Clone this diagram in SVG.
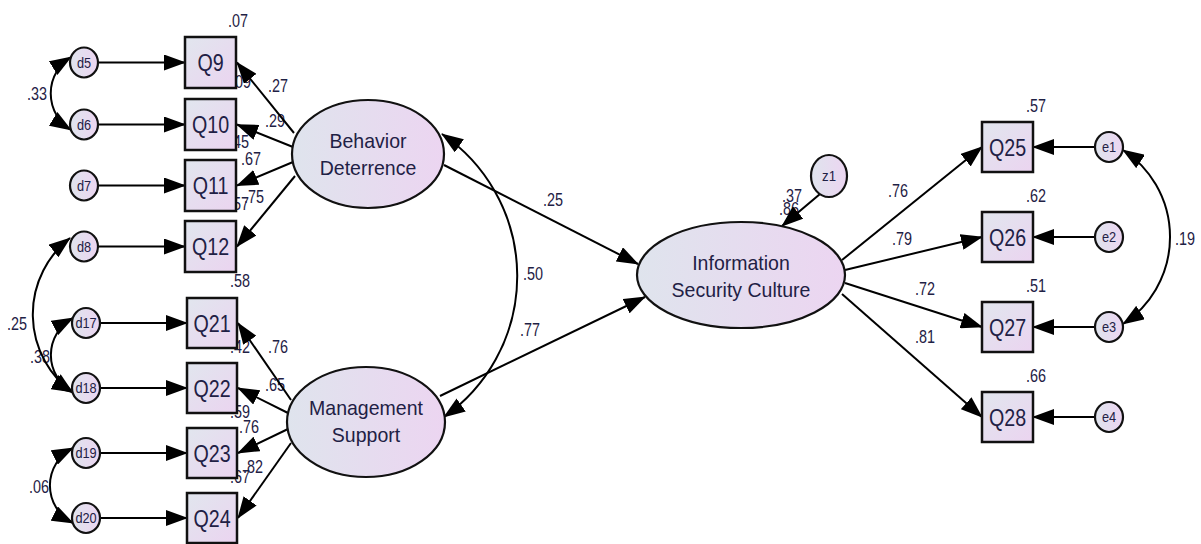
<svg xmlns="http://www.w3.org/2000/svg" width="1201" height="544" viewBox="0 0 1201 544">
  <defs>
    <linearGradient id="gEll" x1="0" y1="0" x2="1" y2="0">
      <stop offset="0" stop-color="#dfe4ed"/>
      <stop offset="1" stop-color="#ecd5f1"/>
    </linearGradient>
    <linearGradient id="gBox" x1="0" y1="0" x2="1" y2="1">
      <stop offset="0" stop-color="#e1e6ee"/>
      <stop offset="1" stop-color="#ebd4f0"/>
    </linearGradient>
    <marker id="ah" markerUnits="userSpaceOnUse" markerWidth="22" markerHeight="16" viewBox="0 0 22 16" refX="21" refY="8" orient="auto-start-reverse">
      <path d="M0,0 L22,8 L0,16 Z" fill="#000"/>
    </marker>
    <style>
      text { font-family: "Liberation Sans", Arial, sans-serif; fill: #1f2145; }
      .num { font-size: 18px; }
      .box { fill: url(#gBox); stroke: #111; stroke-width: 2.5; }
      .lat { fill: url(#gEll); stroke: #111; stroke-width: 2.2; }
      .err { fill: url(#gEll); stroke: #111; stroke-width: 2.2; }
      .qt { font-size: 24px; text-anchor: middle; }
      .lt { font-size: 21px; text-anchor: middle; }
      .et { font-size: 15px; text-anchor: middle; }
      .c { fill: none; stroke: #000; stroke-width: 2; marker-end: url(#ah); }
      .cv { fill: none; stroke: #000; stroke-width: 2; marker-start: url(#ah); marker-end: url(#ah); }
    </style>
  </defs>

  <rect width="1201" height="544" fill="#ffffff"/>

  <!-- coefficient and squared multiple correlation labels -->
  <g id="labels" class="num">
    <text transform="translate(228 27) scale(.8 1)">.07</text>
    <text transform="translate(231 88) scale(.8 1)">.09</text>
    <text transform="translate(268 92) scale(.8 1)">.27</text>
    <text transform="translate(265 127) scale(.8 1)">.29</text>
    <text transform="translate(229 148) scale(.8 1)">.45</text>
    <text transform="translate(241 165) scale(.8 1)">.67</text>
    <text transform="translate(244 203) scale(.8 1)">.75</text>
    <text transform="translate(229 210) scale(.8 1)">.57</text>
    <text transform="translate(27 100) scale(.8 1)">.33</text>
    <text transform="translate(230 287) scale(.8 1)">.58</text>
    <text transform="translate(7 330) scale(.8 1)">.25</text>
    <text transform="translate(30 363) scale(.8 1)">.38</text>
    <text transform="translate(29 493) scale(.8 1)">.06</text>
    <text transform="translate(230 353) scale(.8 1)">.42</text>
    <text transform="translate(268 353) scale(.8 1)">.76</text>
    <text transform="translate(265 391) scale(.8 1)">.65</text>
    <text transform="translate(230 418) scale(.8 1)">.59</text>
    <text transform="translate(239 433) scale(.8 1)">.76</text>
    <text transform="translate(243 473) scale(.8 1)">.82</text>
    <text transform="translate(230 483) scale(.8 1)">.67</text>
    <text transform="translate(543 206) scale(.8 1)">.25</text>
    <text transform="translate(523 280) scale(.8 1)">.50</text>
    <text transform="translate(520 336) scale(.8 1)">.77</text>
    <text transform="translate(782 202) scale(.8 1)">.37</text>
    <text transform="translate(779 215) scale(.8 1)">.86</text>
    <text transform="translate(888 197) scale(.8 1)">.76</text>
    <text transform="translate(892 245) scale(.8 1)">.79</text>
    <text transform="translate(915 295) scale(.8 1)">.72</text>
    <text transform="translate(915 343) scale(.8 1)">.81</text>
    <text transform="translate(1026 112) scale(.8 1)">.57</text>
    <text transform="translate(1026 202) scale(.8 1)">.62</text>
    <text transform="translate(1026 292) scale(.8 1)">.51</text>
    <text transform="translate(1026 382) scale(.8 1)">.66</text>
    <text transform="translate(1175 245) scale(.8 1)">.19</text>
  </g>

  <!-- paths and covariances -->
  <g id="connectors">
    <!-- residuals to indicators, left -->
    <line class="c" x1="98" y1="62.5" x2="185" y2="62.5"/>
    <line class="c" x1="98" y1="124.5" x2="185" y2="124.5"/>
    <line class="c" x1="98" y1="185.5" x2="185" y2="185.5"/>
    <line class="c" x1="98" y1="246.5" x2="185" y2="246.5"/>
    <line class="c" x1="100" y1="323" x2="187" y2="323"/>
    <line class="c" x1="100" y1="388" x2="187" y2="388"/>
    <line class="c" x1="100" y1="453" x2="187" y2="453"/>
    <line class="c" x1="100" y1="518" x2="187" y2="518"/>
    <!-- Behavior Deterrence loadings -->
    <line class="c" x1="294" y1="133" x2="237" y2="62.5"/>
    <line class="c" x1="293" y1="147" x2="237" y2="124.5"/>
    <line class="c" x1="293" y1="162" x2="237" y2="185.5"/>
    <line class="c" x1="295" y1="176" x2="237" y2="246.5"/>
    <!-- Management Support loadings -->
    <line class="c" x1="291" y1="400" x2="238" y2="323"/>
    <line class="c" x1="288" y1="413" x2="238" y2="388"/>
    <line class="c" x1="288" y1="429" x2="238" y2="453"/>
    <line class="c" x1="291" y1="443" x2="238" y2="518"/>
    <!-- structural paths -->
    <line class="c" x1="444" y1="165" x2="638" y2="264"/>
    <line class="c" x1="440" y1="396" x2="645" y2="297"/>
    <line class="c" x1="820" y1="194" x2="782" y2="226"/>
    <!-- Information Security Culture loadings -->
    <line class="c" x1="842" y1="260" x2="982" y2="147"/>
    <line class="c" x1="845" y1="270" x2="982" y2="237"/>
    <line class="c" x1="845" y1="283" x2="982" y2="327"/>
    <line class="c" x1="842" y1="294" x2="982" y2="417"/>
    <!-- residuals to indicators, right -->
    <line class="c" x1="1095" y1="147" x2="1033" y2="147"/>
    <line class="c" x1="1095" y1="237" x2="1033" y2="237"/>
    <line class="c" x1="1095" y1="327" x2="1033" y2="327"/>
    <line class="c" x1="1095" y1="417" x2="1033" y2="417"/>
    <!-- covariances -->
    <path class="cv" d="M442,134 A172,172 0 0 1 444,417"/>
    <path class="cv" d="M71,57 A43,43 0 0 0 71,130"/>
    <path class="cv" d="M70,238 A97,97 0 0 0 73,393"/>
    <path class="cv" d="M73,318 A42,42 0 0 0 73,392"/>
    <path class="cv" d="M73,448 A42,42 0 0 0 73,523"/>
    <path class="cv" d="M1123,150 A104,104 0 0 1 1123,324"/>
  </g>

  <!-- latent variables -->
  <g id="behavior-deterrence">
    <ellipse class="lat" cx="368" cy="154" rx="76" ry="54"/>
    <text class="lt" transform="translate(368 148) scale(.93 1)">Behavior</text>
    <text class="lt" transform="translate(368 175) scale(.93 1)">Deterrence</text>
  </g>
  <g id="management-support">
    <ellipse class="lat" cx="366" cy="422" rx="79" ry="55"/>
    <text class="lt" transform="translate(366 415) scale(.93 1)">Management</text>
    <text class="lt" transform="translate(366 442) scale(.93 1)">Support</text>
  </g>
  <g id="information-security-culture">
    <ellipse class="lat" cx="741" cy="275" rx="104" ry="53"/>
    <text class="lt" transform="translate(741 270) scale(.93 1)">Information</text>
    <text class="lt" transform="translate(741 297) scale(.93 1)">Security Culture</text>
  </g>
  <g id="z1">
    <ellipse class="err" cx="829" cy="176" rx="18" ry="21"/>
    <text class="et" transform="translate(829 181) scale(.88 1)">z1</text>
  </g>

  <!-- observed indicators -->
  <g id="Q9"><rect class="box" x="185" y="37" width="51" height="51"/><text class="qt" transform="translate(210.5 71) scale(.82 1)">Q9</text></g>
  <g id="Q10"><rect class="box" x="185" y="99" width="51" height="51"/><text class="qt" transform="translate(210.5 133) scale(.82 1)">Q10</text></g>
  <g id="Q11"><rect class="box" x="185" y="160" width="51" height="51"/><text class="qt" transform="translate(210.5 194) scale(.82 1)">Q11</text></g>
  <g id="Q12"><rect class="box" x="185" y="221" width="51" height="51"/><text class="qt" transform="translate(210.5 255) scale(.82 1)">Q12</text></g>
  <g id="Q21"><rect class="box" x="187" y="298" width="50" height="50"/><text class="qt" transform="translate(212 331.5) scale(.82 1)">Q21</text></g>
  <g id="Q22"><rect class="box" x="187" y="363" width="50" height="50"/><text class="qt" transform="translate(212 396.5) scale(.82 1)">Q22</text></g>
  <g id="Q23"><rect class="box" x="187" y="428" width="50" height="50"/><text class="qt" transform="translate(212 461.5) scale(.82 1)">Q23</text></g>
  <g id="Q24"><rect class="box" x="187" y="493" width="50" height="50"/><text class="qt" transform="translate(212 526.5) scale(.82 1)">Q24</text></g>
  <g id="Q25"><rect class="box" x="982" y="122" width="51" height="50"/><text class="qt" transform="translate(1007.5 155.5) scale(.82 1)">Q25</text></g>
  <g id="Q26"><rect class="box" x="982" y="212" width="51" height="50"/><text class="qt" transform="translate(1007.5 245.5) scale(.82 1)">Q26</text></g>
  <g id="Q27"><rect class="box" x="982" y="302" width="51" height="50"/><text class="qt" transform="translate(1007.5 335.5) scale(.82 1)">Q27</text></g>
  <g id="Q28"><rect class="box" x="982" y="392" width="51" height="50"/><text class="qt" transform="translate(1007.5 425.5) scale(.82 1)">Q28</text></g>

  <!-- residual terms -->
  <g id="d5"><ellipse class="err" cx="84" cy="62.5" rx="14" ry="15"/><text class="et" transform="translate(84 67.5) scale(.85 1)">d5</text></g>
  <g id="d6"><ellipse class="err" cx="84" cy="124.5" rx="14" ry="15"/><text class="et" transform="translate(84 129.5) scale(.85 1)">d6</text></g>
  <g id="d7"><ellipse class="err" cx="84" cy="185.5" rx="14" ry="15"/><text class="et" transform="translate(84 190.5) scale(.85 1)">d7</text></g>
  <g id="d8"><ellipse class="err" cx="84" cy="246.5" rx="14" ry="15"/><text class="et" transform="translate(84 251.5) scale(.85 1)">d8</text></g>
  <g id="d17"><ellipse class="err" cx="86" cy="323" rx="14" ry="15"/><text class="et" transform="translate(86 328) scale(.85 1)">d17</text></g>
  <g id="d18"><ellipse class="err" cx="86" cy="388" rx="14" ry="15"/><text class="et" transform="translate(86 393) scale(.85 1)">d18</text></g>
  <g id="d19"><ellipse class="err" cx="86" cy="453" rx="14" ry="15"/><text class="et" transform="translate(86 458) scale(.85 1)">d19</text></g>
  <g id="d20"><ellipse class="err" cx="86" cy="518" rx="14" ry="15"/><text class="et" transform="translate(86 523) scale(.85 1)">d20</text></g>
  <g id="e1"><ellipse class="err" cx="1109" cy="147" rx="14" ry="15"/><text class="et" transform="translate(1109 152) scale(.85 1)">e1</text></g>
  <g id="e2"><ellipse class="err" cx="1109" cy="237" rx="14" ry="15"/><text class="et" transform="translate(1109 242) scale(.85 1)">e2</text></g>
  <g id="e3"><ellipse class="err" cx="1109" cy="327" rx="14" ry="15"/><text class="et" transform="translate(1109 332) scale(.85 1)">e3</text></g>
  <g id="e4"><ellipse class="err" cx="1109" cy="417" rx="14" ry="15"/><text class="et" transform="translate(1109 422) scale(.85 1)">e4</text></g>
</svg>
